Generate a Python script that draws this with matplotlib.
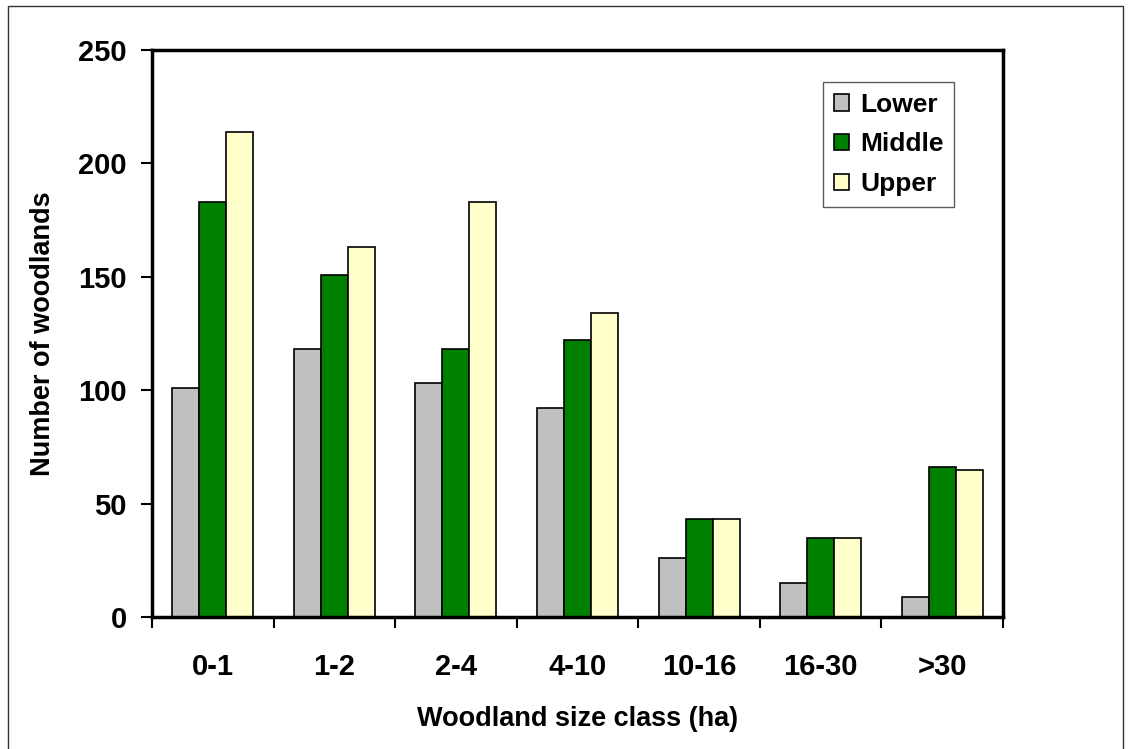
import numpy as np
import matplotlib.pyplot as plt
from matplotlib.patches import Rectangle

plt.rcParams['font.family'] = ['Liberation Sans', 'DejaVu Sans']
plt.rcParams['font.weight'] = 'bold'

categories = ['0-1', '1-2', '2-4', '4-10', '10-16', '16-30', '>30']
lower = [101, 118, 103, 92, 26, 15, 9]
middle = [183, 151, 118, 122, 43, 35, 66]
upper = [214, 163, 183, 134, 43, 35, 65]

series = [('Lower', lower, '#c0c0c0'),
          ('Middle', middle, '#008000'),
          ('Upper', upper, '#ffffcc')]

W, H = 1131, 749
fig = plt.figure(figsize=(W / 100, H / 100), dpi=100)
ax = fig.add_axes([152 / W, 1 - 617 / H, (1003 - 152) / W, (617 - 50) / H])

# outer chart border
fig.patches.append(Rectangle((8 / W, -0.01), (1123 - 8) / W, 1 - 6 / H + 0.01,
                             transform=fig.transFigure, fill=False,
                             edgecolor='#333333', linewidth=1))

x = np.arange(len(categories))
bw = 0.222
for i, (name, vals, col) in enumerate(series):
    ax.bar(x + (i - 1) * bw, vals, bw, color=col, edgecolor='black',
           linewidth=1.2, label=name)

ax.set_xlim(-0.5, len(categories) - 0.5)
ax.set_ylim(0, 250)
ax.set_yticks(np.arange(0, 251, 50))
ax.set_xticks(np.arange(-0.5, len(categories), 1.0))
ax.set_xticklabels([])
ax.set_xticks(x, minor=True)
ax.set_xticklabels(categories, minor=True)
ax.tick_params(axis='x', which='minor', length=0, pad=26, labelsize=21)
ax.tick_params(axis='x', which='major', length=8, width=1.5, direction='out')
ax.tick_params(axis='y', length=8, width=1.5, direction='out', labelsize=21, pad=10)
for sp in ax.spines.values():
    sp.set_linewidth(2.5)

ax.set_ylabel('Number of woodlands', fontsize=19.5, fontweight='bold', labelpad=16)
ax.set_xlabel('Woodland size class (ha)', fontsize=19.5, fontweight='bold', labelpad=18)

leg = ax.legend(loc='upper left', bbox_to_anchor=((823 - 152) / (1003 - 152), 1 - (82 - 50) / (617 - 50)),
                fontsize=19, frameon=True, fancybox=False, edgecolor='#333333',
                handlelength=0.6, handleheight=0.6, handletextpad=0.4,
                labelspacing=0.6, borderpad=0.4, borderaxespad=0)
leg.get_frame().set_linewidth(1)
for t in leg.get_texts():
    t.set_fontweight('bold')

fig.savefig('out.png', dpi=100)
